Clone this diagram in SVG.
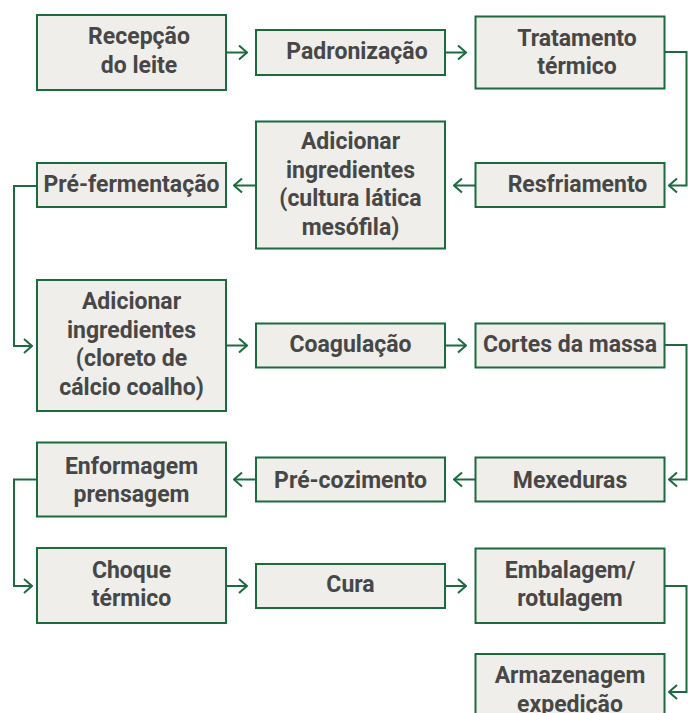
<svg xmlns="http://www.w3.org/2000/svg" width="688" height="713" viewBox="0 0 688 713">
<defs>
<style>
.box{fill:#efeeea;stroke:#1b6b3e;stroke-width:2}
.t{font-family:Roboto,"Liberation Sans",sans-serif;font-weight:bold;font-size:23px;fill:#474747;text-anchor:middle}
.c{fill:none;stroke:#1b6b3e;stroke-width:2;marker-end:url(#a)}
</style>
<marker id="a" markerUnits="userSpaceOnUse" viewBox="0 0 10 16" markerWidth="10" markerHeight="16" refX="9" refY="8" orient="auto">
<path d="M1,1 L9,8 L1,15" fill="none" stroke="#1b6b3e" stroke-width="2"/>
</marker>
</defs>
<rect width="688" height="713" fill="#ffffff"/>
<g id="connectors">
<path class="c" d="M227,52.5 H247"/>
<path class="c" d="M446,52.5 H466"/>
<path class="c" d="M665,52 H686.5 V185.5 H669"/>
<path class="c" d="M475,185.5 H454"/>
<path class="c" d="M255,185.5 H234"/>
<path class="c" d="M36,186 H14 V346 H32"/>
<path class="c" d="M227,345.5 H247"/>
<path class="c" d="M446,345.5 H466"/>
<path class="c" d="M665,345 H686.5 V479.5 H669"/>
<path class="c" d="M475,479.5 H454"/>
<path class="c" d="M255,479.5 H234"/>
<path class="c" d="M36,479.5 H14 V586 H32"/>
<path class="c" d="M227,586 H247"/>
<path class="c" d="M446,586 H466"/>
<path class="c" d="M665,586 H686.5 V692 H669"/>
</g>
<g id="n1"><rect class="box" x="37" y="15" width="189" height="75"/><text class="t" x="139" y="44">Recepção</text><text class="t" x="139" y="72.5">do leite</text></g>
<g id="n2"><rect class="box" x="256" y="30" width="189" height="45"/><text class="t" x="357" y="58.5">Padronização</text></g>
<g id="n3"><rect class="box" x="475.5" y="16.5" width="189" height="72"/><text class="t" x="577" y="45.5">Tratamento</text><text class="t" x="577" y="73.5">térmico</text></g>
<g id="n4"><rect class="box" x="475.5" y="163" width="189" height="44"/><text class="t" x="577.5" y="191.5">Resfriamento</text></g>
<g id="n5"><rect class="box" x="256" y="121.5" width="189" height="127"/><text class="t" x="350.5" y="149">Adicionar</text><text class="t" x="350.5" y="177.5">ingredientes</text><text class="t" x="350.5" y="206">(cultura lática</text><text class="t" x="350.5" y="234.5">mesófila)</text></g>
<g id="n6"><rect class="box" x="37" y="163" width="189" height="44"/><text class="t" x="131.5" y="191.5">Pré-fermentação</text></g>
<g id="n7"><rect class="box" x="37" y="280" width="189" height="131"/><text class="t" x="131.5" y="309">Adicionar</text><text class="t" x="131.5" y="337.5">ingredientes</text><text class="t" x="131.5" y="366">(cloreto de</text><text class="t" x="131.5" y="394.5">cálcio coalho)</text></g>
<g id="n8"><rect class="box" x="256" y="323.5" width="189" height="44"/><text class="t" x="350.5" y="352">Coagulação</text></g>
<g id="n9"><rect class="box" x="475.5" y="323.5" width="189" height="44"/><text class="t" x="570" y="352">Cortes da massa</text></g>
<g id="n10"><rect class="box" x="475.5" y="457.5" width="189" height="44"/><text class="t" x="570" y="488">Mexeduras</text></g>
<g id="n11"><rect class="box" x="256" y="457.5" width="189" height="44"/><text class="t" x="350.5" y="488">Pré-cozimento</text></g>
<g id="n12"><rect class="box" x="37" y="442.5" width="189" height="74"/><text class="t" x="131.5" y="473.5">Enformagem</text><text class="t" x="131.5" y="502">prensagem</text></g>
<g id="n13"><rect class="box" x="37" y="548" width="189" height="75"/><text class="t" x="131.5" y="577.5">Choque</text><text class="t" x="131.5" y="606">térmico</text></g>
<g id="n14"><rect class="box" x="256" y="564" width="189" height="44"/><text class="t" x="350.5" y="591.5">Cura</text></g>
<g id="n15"><rect class="box" x="475.5" y="548.5" width="189" height="74.5"/><text class="t" x="570" y="577.5">Embalagem/</text><text class="t" x="570" y="606">rotulagem</text></g>
<g id="n16"><rect class="box" x="475.5" y="654" width="189" height="100"/><text class="t" x="570" y="683">Armazenagem</text><text class="t" x="570" y="711.5">expedição</text></g>
</svg>
